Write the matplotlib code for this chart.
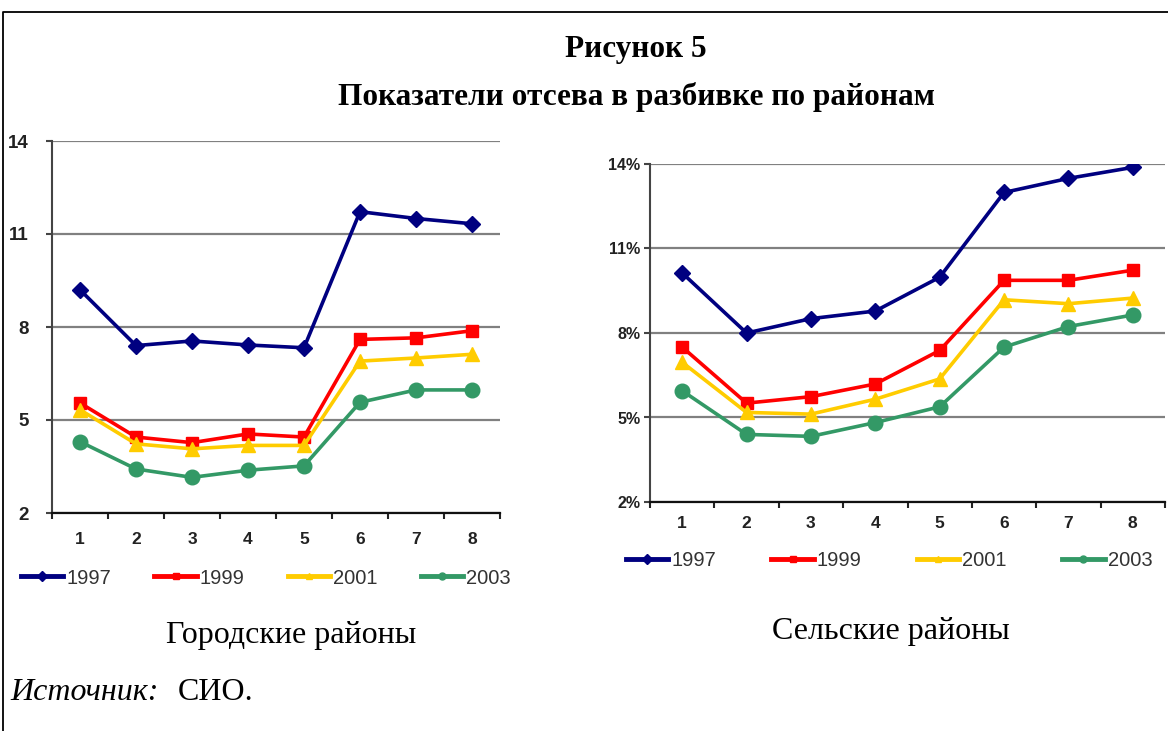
import numpy as np
import matplotlib.pyplot as plt
from matplotlib.lines import Line2D
from matplotlib.ticker import FuncFormatter

districts = [1, 2, 3, 4, 5, 6, 7, 8]
years = ['1997', '1999', '2001', '2003']

# городские районы
urban_1997 = [9.2, 7.4, 7.55, 7.42, 7.33, 11.72, 11.5, 11.33]
urban_1999 = [5.55, 4.45, 4.27, 4.55, 4.45, 7.6, 7.65, 7.88]
urban_2001 = [5.33, 4.23, 4.07, 4.18, 4.18, 6.9, 7.0, 7.12]
urban_2003 = [4.3, 3.42, 3.15, 3.38, 3.52, 5.57, 5.97, 5.97]

# сельские районы, %
rural_1997 = [10.13, 8.0, 8.51, 8.78, 9.98, 12.99, 13.49, 13.88]
rural_1999 = [7.5, 5.51, 5.74, 6.19, 7.38, 9.87, 9.87, 10.23]
rural_2001 = [6.96, 5.18, 5.12, 5.65, 6.37, 9.18, 9.04, 9.24]
rural_2003 = [5.95, 4.4, 4.33, 4.82, 5.38, 7.5, 8.23, 8.64]

y_ticks = [2, 5, 8, 11, 14]

colors = ['#000080', '#ff0000', '#ffcc00', '#339966']
markers = ['D', 's', '^', 'o']
msizes = [8.5, 8, 10, 10.5]

serif = 'Liberation Serif'
sans = 'Liberation Sans'

fig = plt.figure(figsize=(11.68, 7.31), dpi=100)


def draw_panel(ax, series, pct, ylab_pad, xlab_pad, ylab_size):
    for vals, c, m, ms in zip(series, colors, markers, msizes):
        ax.plot(districts, vals, color=c, lw=2.6, marker=m, ms=ms,
                markeredgecolor=c, solid_joinstyle='miter', zorder=3)
    ax.set_xlim(0.5, 8.5)
    ax.set_ylim(2, 14)
    ax.set_yticks(y_ticks)
    ax.yaxis.grid(True, color='#808080', lw=1.6)
    ax.set_axisbelow(True)
    for s in ['top', 'right']:
        ax.spines[s].set_visible(False)
    ax.spines['left'].set_color('#444444')
    ax.spines['left'].set_linewidth(1.5)
    ax.spines['bottom'].set_color('#111111')
    ax.spines['bottom'].set_linewidth(1.6)
    ax.set_xticks(districts)
    ax.set_xticks(np.arange(0.5, 9, 1), minor=True)
    ax.tick_params(axis='x', which='major', length=0, pad=xlab_pad)
    ax.tick_params(axis='x', which='minor', length=4, width=1.5, color='#222222')
    ax.tick_params(axis='y', length=4, width=1.5, color='#444444', pad=ylab_pad)
    if pct:
        ax.yaxis.set_major_formatter(FuncFormatter(lambda v, p: '%d%%' % v))
    for lab in ax.get_xticklabels():
        lab.set_fontfamily(sans)
        lab.set_fontweight('bold')
        lab.set_fontsize(12.5)
        lab.set_color('#222222')
    for lab in ax.get_yticklabels():
        lab.set_fontfamily(sans)
        lab.set_fontweight('bold')
        lab.set_fontsize(ylab_size)
        lab.set_color('#222222')


ax1 = fig.add_axes([52 / 1168, 1 - 513 / 731, 448 / 1168, 372 / 731])
draw_panel(ax1, [urban_1997, urban_1999, urban_2001, urban_2003], False, 13, 14, 13.5)

ax2 = fig.add_axes([650 / 1168, 1 - 502 / 731, 515 / 1168, 338 / 731])
draw_panel(ax2, [rural_1997, rural_1999, rural_2001, rural_2003], True, 3, 10, 11.5)

handles = [Line2D([], [], color=c, lw=3.5, marker=m, ms=5, markeredgecolor=c)
           for c, m in zip(colors, markers)]

fig.legend(handles, years, loc='center left', bbox_to_anchor=(21 / 1168, 1 - 578 / 731),
           ncol=4, frameon=False, handlelength=2.1, handletextpad=0.15,
           columnspacing=2.15, borderpad=0, borderaxespad=0,
           prop={'family': sans, 'size': 14.5}, labelcolor='#333333')
fig.legend(handles, years, loc='center left', bbox_to_anchor=(626 / 1168, 1 - 561 / 731),
           ncol=4, frameon=False, handlelength=2.1, handletextpad=0.15,
           columnspacing=2.75, borderpad=0, borderaxespad=0,
           prop={'family': sans, 'size': 14.5}, labelcolor='#333333')

fig.text(636 / 1168, 1 - 50 / 731, 'Рисунок 5', ha='center', va='center',
         family=serif, weight='bold', fontsize=22.5)
fig.text(636 / 1168, 1 - 97 / 731, 'Показатели отсева в разбивке по районам', ha='center',
         va='center', family=serif, weight='bold', fontsize=22.5)

fig.text(291 / 1168, 1 - 635 / 731, 'Городские районы', ha='center', va='center',
         family=serif, fontsize=23)
fig.text(891 / 1168, 1 - 632 / 731, 'Сельские районы', ha='center', va='center',
         family=serif, fontsize=23)

fig.text(10 / 1168, 1 - 693 / 731, 'Источник:', ha='left', va='center',
         family=serif, style='italic', fontsize=23)
fig.text(178 / 1168, 1 - 693 / 731, 'СИО.', ha='left', va='center',
         family=serif, fontsize=23)

# рамка
fig.add_artist(Line2D([3 / 1168, 3 / 1168, 1], [0, 1 - 12 / 731, 1 - 12 / 731],
                      transform=fig.transFigure, color='black', lw=1.3))

fig.savefig('out.png', dpi=100)
